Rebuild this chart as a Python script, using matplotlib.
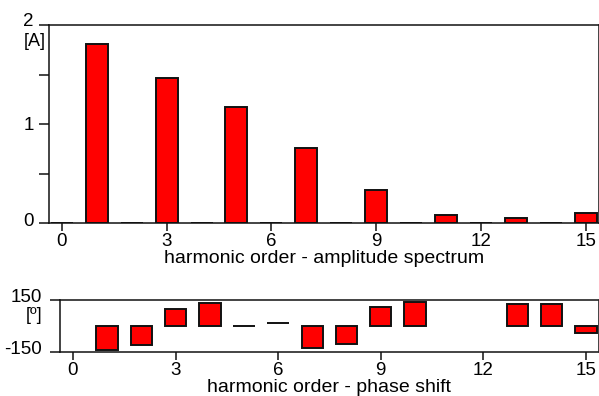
import numpy as np
import matplotlib
matplotlib.use("Agg")
import matplotlib.pyplot as plt
from matplotlib.transforms import ScaledTranslation

plt.rcParams['font.family'] = ['Liberation Sans', 'DejaVu Sans']

harmonics = list(range(16))
amplitude = [0, 1.81, 0, 1.46, 0, 1.17, 0, 0.76, 0, 0.33, 0, 0.084, 0, 0.05, 0, 0.098]
phase = [np.nan, -138, -110, 98, 131, 0, 0, -129, -104, 108, 140, np.nan, np.nan, 125, 125, -43]
phase_bottom = [0, 0, 0, 0, 0, 0, 18, 0, 0, 0, 0, 0, 0, 0, 0, 0]
xticks = [0, 3, 6, 9, 12, 15]

W, H = 599, 396
fig = plt.figure(figsize=(W / 100, H / 100), dpi=100)

def ax_rect(l, t, r, b):
    return [l / W, 1 - b / H, (r - l) / W, (b - t) / H]

fs = 14
tfs = 13.5
ec = '#111111'
lw = 1.1
blw = 1.4

def shift_labels(labels, dy_px):
    for lab in labels:
        lab.set_transform(lab.get_transform() + ScaledTranslation(0, dy_px / 100, fig.dpi_scale_trans))

ax1 = fig.add_axes(ax_rect(49, 25, 598.5, 223))
ax1.bar(harmonics, amplitude, width=0.63, color='#ff0000', edgecolor=ec, linewidth=blw)
ax1.set_xlim(-0.37, 15.37)
ax1.set_ylim(0, 2)
ax1.set_yticks([0, 1, 2])
ax1.set_yticklabels(['0', '1', '2'])
ax1.set_yticks([0.5, 1.5], minor=True)
ax1.set_xticks(xticks)
ax1.tick_params(axis='both', which='both', direction='out', labelsize=tfs, width=lw, color=ec)
ax1.tick_params(axis='y', which='both', length=7, pad=4)
ax1.tick_params(axis='x', length=6, pad=1)
ax1.set_xlabel('harmonic order - amplitude spectrum', fontsize=fs, labelpad=0)
ax1.text(-0.006, 0.918, '[A]', transform=ax1.transAxes, ha='right', va='center', fontsize=13)
ylabs = ax1.get_yticklabels()
shift_labels([ylabs[0]], 3)
shift_labels([ylabs[2]], 5)

ax2 = fig.add_axes(ax_rect(60, 300, 598.5, 352))
ax2.bar(harmonics, phase, bottom=phase_bottom, width=0.63, color='#ff0000', edgecolor=ec, linewidth=blw)
ax2.set_xlim(-0.38, 15.37)
ax2.set_ylim(-150, 150)
ax2.set_yticks([-150, 150])
ax2.set_yticklabels(['-150', '150'])
ax2.set_xticks(xticks)
ax2.tick_params(axis='both', which='both', direction='out', labelsize=tfs, width=lw, color=ec)
ax2.tick_params(axis='y', length=7, pad=6)
ax2.tick_params(axis='x', length=6, pad=1)
ax2.set_xlabel('harmonic order - phase shift', fontsize=fs, labelpad=0)
ax2.text(-0.032, 0.70, '[º]', transform=ax2.transAxes, ha='right', va='center', fontsize=13)
shift_labels(ax2.get_yticklabels(), 4)

for ax in (ax1, ax2):
    for s in ax.spines.values():
        s.set_linewidth(lw)
        s.set_color(ec)

fig.savefig('out.png', dpi=100)
